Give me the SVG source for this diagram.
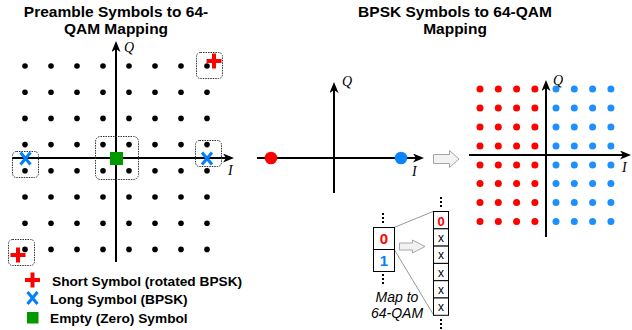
<svg xmlns="http://www.w3.org/2000/svg" width="632" height="330" viewBox="0 0 632 330">
<defs>
<style>
.title{font-family:"Liberation Sans",Arial,sans-serif;font-weight:bold;font-size:15.5px;fill:#000;text-anchor:middle}
.leg{font-family:"Liberation Sans",Arial,sans-serif;font-weight:bold;font-size:13.7px;fill:#000}
.ax{font-family:"Liberation Serif","Times New Roman",serif;font-style:italic;font-size:14px;fill:#000}
.axis{stroke:#000;stroke-width:2;fill:none}
.dbox{fill:none;stroke:#333;stroke-width:1;stroke-dasharray:1.5 1}
.kd{fill:#000}
.rd{fill:#FF0000}
.bd{fill:#1E8FFF}
.plus{stroke:#FF0000;stroke-width:4;fill:none}
.xx{stroke:#007FFF;stroke-width:3;fill:none}
.cell{fill:#fff;stroke:#000;stroke-width:1}
.c0{font-family:"Liberation Sans",Arial,sans-serif;font-weight:bold;fill:#FF0000;text-anchor:middle}
.c1{font-family:"Liberation Sans",Arial,sans-serif;font-weight:bold;fill:#007FFF;text-anchor:middle}
.cx{font-family:"Liberation Sans",Arial,sans-serif;font-size:12px;fill:#000;text-anchor:middle}
.map{font-family:"Liberation Sans",Arial,sans-serif;font-style:italic;font-size:14px;fill:#000;text-anchor:middle}
.hollow{fill:#F2F2F2;stroke:#A6A6A6;stroke-width:1}
.gl{stroke:#999;stroke-width:1;fill:none}
</style>
<marker id="arr" viewBox="0 0 11 9" refX="6" refY="4.5" markerWidth="11" markerHeight="9" markerUnits="userSpaceOnUse" orient="auto">
<path d="M0,0 L11,4.5 L0,9 L3,4.5 z" fill="#000"/>
</marker>
<circle id="kd" r="2.8"/>
<circle id="sd" r="3.5"/>
</defs>

<text class="title" x="116" y="17">Preamble Symbols to 64-</text>
<text class="title" x="116" y="34">QAM Mapping</text>
<text class="title" x="455" y="17">BPSK Symbols to 64-QAM</text>
<text class="title" x="455" y="34">Mapping</text>

<g id="left-constellation">
<g class="kd">
<use href="#kd" x="25" y="66"/><use href="#kd" x="51" y="66"/><use href="#kd" x="77" y="66"/><use href="#kd" x="103" y="66"/><use href="#kd" x="129" y="66"/><use href="#kd" x="155" y="66"/><use href="#kd" x="181" y="66"/><use href="#kd" x="207" y="66"/>
<use href="#kd" x="25" y="92.2"/><use href="#kd" x="51" y="92.2"/><use href="#kd" x="77" y="92.2"/><use href="#kd" x="103" y="92.2"/><use href="#kd" x="129" y="92.2"/><use href="#kd" x="155" y="92.2"/><use href="#kd" x="181" y="92.2"/><use href="#kd" x="207" y="92.2"/>
<use href="#kd" x="25" y="118.4"/><use href="#kd" x="51" y="118.4"/><use href="#kd" x="77" y="118.4"/><use href="#kd" x="103" y="118.4"/><use href="#kd" x="129" y="118.4"/><use href="#kd" x="155" y="118.4"/><use href="#kd" x="181" y="118.4"/><use href="#kd" x="207" y="118.4"/>
<use href="#kd" x="25" y="144.6"/><use href="#kd" x="51" y="144.6"/><use href="#kd" x="77" y="144.6"/><use href="#kd" x="103" y="144.6"/><use href="#kd" x="129" y="144.6"/><use href="#kd" x="155" y="144.6"/><use href="#kd" x="181" y="144.6"/><use href="#kd" x="207" y="144.6"/>
<use href="#kd" x="25" y="170.8"/><use href="#kd" x="51" y="170.8"/><use href="#kd" x="77" y="170.8"/><use href="#kd" x="103" y="170.8"/><use href="#kd" x="129" y="170.8"/><use href="#kd" x="155" y="170.8"/><use href="#kd" x="181" y="170.8"/><use href="#kd" x="207" y="170.8"/>
<use href="#kd" x="25" y="197"/><use href="#kd" x="51" y="197"/><use href="#kd" x="77" y="197"/><use href="#kd" x="103" y="197"/><use href="#kd" x="129" y="197"/><use href="#kd" x="155" y="197"/><use href="#kd" x="181" y="197"/><use href="#kd" x="207" y="197"/>
<use href="#kd" x="25" y="223.2"/><use href="#kd" x="51" y="223.2"/><use href="#kd" x="77" y="223.2"/><use href="#kd" x="103" y="223.2"/><use href="#kd" x="129" y="223.2"/><use href="#kd" x="155" y="223.2"/><use href="#kd" x="181" y="223.2"/><use href="#kd" x="207" y="223.2"/>
<use href="#kd" x="25" y="249.4"/><use href="#kd" x="51" y="249.4"/><use href="#kd" x="77" y="249.4"/><use href="#kd" x="103" y="249.4"/><use href="#kd" x="129" y="249.4"/><use href="#kd" x="155" y="249.4"/><use href="#kd" x="181" y="249.4"/><use href="#kd" x="207" y="249.4"/>
</g>
<line class="axis" x1="12" y1="158" x2="229" y2="158" marker-end="url(#arr)"/>
<line class="axis" x1="116" y1="262" x2="116" y2="46" marker-end="url(#arr)"/>
<text class="ax" x="124" y="52">Q</text>
<text class="ax" x="228" y="175">I</text>
<rect class="dbox" x="196.5" y="52.5" width="26" height="26" rx="4"/>
<rect class="dbox" x="12.5" y="151.5" width="26" height="26" rx="4"/>
<rect class="dbox" x="95.5" y="136.5" width="43" height="43" rx="5"/>
<rect class="dbox" x="195.5" y="140.5" width="26" height="26" rx="4"/>
<rect class="dbox" x="8.5" y="239.5" width="26" height="26" rx="4"/>
<path class="plus" d="M206.5,61 H221.5 M214,53.5 V68.5"/>
<path class="plus" d="M10.5,255 H25.5 M18,247.5 V262.5"/>
<path class="xx" d="M20.5,152.5 L30.5,164.5 M30.5,152.5 L20.5,164.5"/>
<path class="xx" d="M202,152.5 L212,164.5 M212,152.5 L202,164.5"/>
<rect x="110" y="152" width="13" height="13" fill="#009900"/>
</g>

<g id="legend">
<path class="plus" d="M25,280 H40 M32.5,272.5 V287.5"/>
<path class="xx" d="M27.5,292 L37.5,304 M37.5,292 L27.5,304"/>
<rect x="27" y="312" width="11.5" height="11.5" fill="#009900"/>
<text class="leg" x="52" y="286">Short Symbol (rotated BPSK)</text>
<text class="leg" x="50" y="304">Long Symbol (BPSK)</text>
<text class="leg" x="50" y="323">Empty (Zero) Symbol</text>
</g>

<g id="bpsk-constellation">
<line class="axis" x1="257" y1="158" x2="419" y2="158" marker-end="url(#arr)"/>
<line class="axis" x1="334" y1="193" x2="334" y2="87" marker-end="url(#arr)"/>
<text class="ax" x="342" y="86">Q</text>
<text class="ax" x="412" y="176">I</text>
<circle cx="271" cy="158" r="6.3" fill="#FF0000"/>
<circle cx="401" cy="158" r="6.3" fill="#0A84FF"/>
</g>

<g id="arrow-big">
<path class="hollow" d="M433.5,154.5 H449.5 V150.5 L459,159 L449.5,167.5 V163.5 H433.5 Z"/>
</g>

<g id="qam-constellation">
<g class="rd">
<use href="#sd" x="480" y="89"/><use href="#sd" x="498.3" y="89"/><use href="#sd" x="516.6" y="89"/><use href="#sd" x="534.9" y="89"/>
<use href="#sd" x="480" y="108"/><use href="#sd" x="498.3" y="108"/><use href="#sd" x="516.6" y="108"/><use href="#sd" x="534.9" y="108"/>
<use href="#sd" x="480" y="127"/><use href="#sd" x="498.3" y="127"/><use href="#sd" x="516.6" y="127"/><use href="#sd" x="534.9" y="127"/>
<use href="#sd" x="480" y="146"/><use href="#sd" x="498.3" y="146"/><use href="#sd" x="516.6" y="146"/><use href="#sd" x="534.9" y="146"/>
<use href="#sd" x="480" y="165"/><use href="#sd" x="498.3" y="165"/><use href="#sd" x="516.6" y="165"/><use href="#sd" x="534.9" y="165"/>
<use href="#sd" x="480" y="183.5"/><use href="#sd" x="498.3" y="183.5"/><use href="#sd" x="516.6" y="183.5"/><use href="#sd" x="534.9" y="183.5"/>
<use href="#sd" x="480" y="202.5"/><use href="#sd" x="498.3" y="202.5"/><use href="#sd" x="516.6" y="202.5"/><use href="#sd" x="534.9" y="202.5"/>
<use href="#sd" x="480" y="221.5"/><use href="#sd" x="498.3" y="221.5"/><use href="#sd" x="516.6" y="221.5"/><use href="#sd" x="534.9" y="221.5"/>
</g>
<g class="bd">
<use href="#sd" x="556" y="89"/><use href="#sd" x="574.3" y="89"/><use href="#sd" x="592.6" y="89"/><use href="#sd" x="610.9" y="89"/>
<use href="#sd" x="556" y="108"/><use href="#sd" x="574.3" y="108"/><use href="#sd" x="592.6" y="108"/><use href="#sd" x="610.9" y="108"/>
<use href="#sd" x="556" y="127"/><use href="#sd" x="574.3" y="127"/><use href="#sd" x="592.6" y="127"/><use href="#sd" x="610.9" y="127"/>
<use href="#sd" x="556" y="146"/><use href="#sd" x="574.3" y="146"/><use href="#sd" x="592.6" y="146"/><use href="#sd" x="610.9" y="146"/>
<use href="#sd" x="556" y="165"/><use href="#sd" x="574.3" y="165"/><use href="#sd" x="592.6" y="165"/><use href="#sd" x="610.9" y="165"/>
<use href="#sd" x="556" y="183.5"/><use href="#sd" x="574.3" y="183.5"/><use href="#sd" x="592.6" y="183.5"/><use href="#sd" x="610.9" y="183.5"/>
<use href="#sd" x="556" y="202.5"/><use href="#sd" x="574.3" y="202.5"/><use href="#sd" x="592.6" y="202.5"/><use href="#sd" x="610.9" y="202.5"/>
<use href="#sd" x="556" y="221.5"/><use href="#sd" x="574.3" y="221.5"/><use href="#sd" x="592.6" y="221.5"/><use href="#sd" x="610.9" y="221.5"/>
</g>
<line class="axis" x1="469" y1="155" x2="626" y2="155" marker-end="url(#arr)"/>
<line class="axis" x1="546" y1="237" x2="546" y2="85" marker-end="url(#arr)"/>
<text class="ax" x="553" y="85">Q</text>
<text class="ax" x="622" y="172">I</text>
</g>

<g id="connectors">
<line class="gl" x1="394" y1="227.5" x2="433" y2="211.5"/>
<line class="gl" x1="394" y1="249" x2="433" y2="314"/>
</g>

<g id="bpsk-stream">
<rect class="cell" x="373.5" y="227.5" width="21" height="22"/>
<rect class="cell" x="373.5" y="249.5" width="21" height="22"/>
<text class="c0" x="384" y="244" font-size="15">0</text>
<text class="c1" x="384" y="266" font-size="15">1</text>
<g fill="#000">
<rect x="382" y="213" width="2" height="2"/><rect x="382" y="217" width="2" height="2"/><rect x="382" y="221" width="2" height="2"/>
<rect x="382" y="274" width="2" height="2"/><rect x="382" y="278" width="2" height="2"/><rect x="382" y="282" width="2" height="2"/>
</g>
<text class="map" x="397" y="302">Map to</text>
<text class="map" x="397" y="318">64-QAM</text>
</g>

<g id="arrow-small">
<path class="hollow" d="M399.5,243 H412.5 V240 L425,246.5 L412.5,253 V250 H399.5 Z"/>
</g>

<g id="qam-stream">
<rect class="cell" x="433.5" y="211.5" width="15" height="17.3"/>
<rect class="cell" x="433.5" y="228.8" width="15" height="17.3"/>
<rect class="cell" x="433.5" y="246.1" width="15" height="17.3"/>
<rect class="cell" x="433.5" y="263.4" width="15" height="17.3"/>
<rect class="cell" x="433.5" y="280.7" width="15" height="17.3"/>
<rect class="cell" x="433.5" y="298" width="15" height="17.3"/>
<text class="c0" x="441" y="225.5" font-size="13">0</text>
<text class="cx" x="441" y="242">x</text>
<text class="cx" x="441" y="259.3">x</text>
<text class="cx" x="441" y="276.6">x</text>
<text class="cx" x="441" y="293.9">x</text>
<text class="cx" x="441" y="311.2">x</text>
<g fill="#000">
<rect x="440" y="197" width="2" height="2"/><rect x="440" y="201" width="2" height="2"/><rect x="440" y="205" width="2" height="2"/>
<rect x="440" y="319" width="2" height="2"/><rect x="440" y="323" width="2" height="2"/><rect x="440" y="327" width="2" height="2"/>
</g>
</g>
</svg>
